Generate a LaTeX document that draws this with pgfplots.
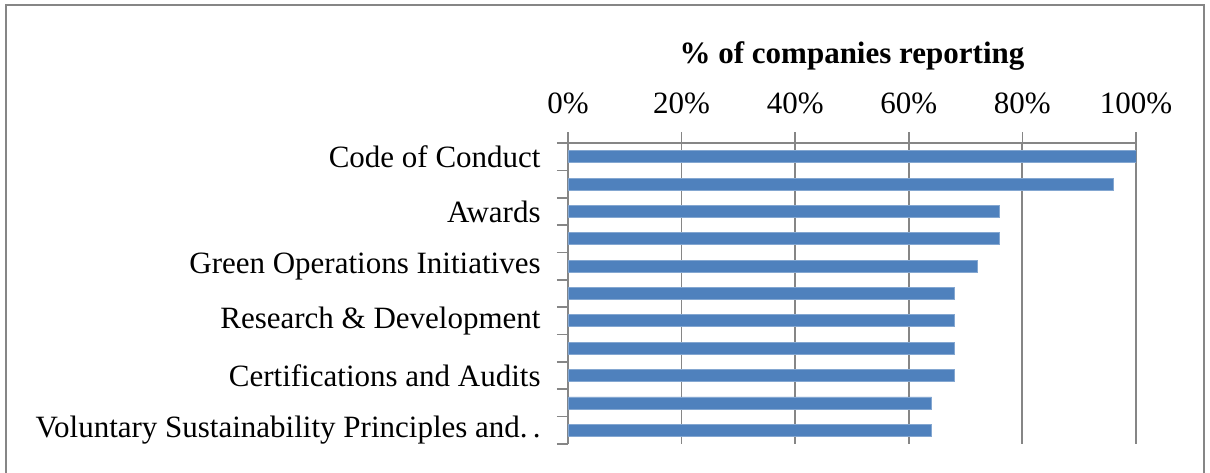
\documentclass[border=0pt]{standalone}
\usepackage{pgfplots}
\pgfplotsset{compat=1.18}
\usepackage{fontspec}
\setmainfont{Liberation Serif}
\definecolor{barblue}{RGB}{79,129,189}
\definecolor{gridgray}{RGB}{134,134,134}
\begin{document}
\begin{tikzpicture}
\useasboundingbox (-284pt,-14pt) rectangle (321pt,222pt);
\draw[gridgray, line width=1.2pt] (-281pt,-30pt) -- (-281pt,219.5pt) -- (318pt,219.5pt) -- (318pt,-30pt);
\begin{axis}[
  at={(0pt,0pt)}, anchor=south west,
  scale only axis,
  width=284pt, height=150.5pt,
  xbar, bar width=0.44, bar shift=0pt,
  xmin=0, xmax=100,
  ymin=-0.5, ymax=10.5,
  y dir=reverse,
  axis x line*=top, axis y line*=left,
  axis line style={-, gridgray, line width=0.8pt},
  xtick={0,20,40,60,80,100},
  xticklabels={0\%,20\%,40\%,60\%,80\%,100\%},
  xmajorgrids, major grid style={gridgray, line width=0.9pt},
  tick align=outside,
  major tick length=5.5pt,
  tick style={gridgray, line width=0.8pt},
  xticklabel style={anchor=center, yshift=14.5pt, font=\fontsize{15.5}{18}\selectfont},
  ytick={-0.5,0.5,...,10.5},
  yticklabels={},
  extra y ticks={0,2,4,6,8,10},
  extra y tick labels={Code of Conduct, Awards, Green Operations Initiatives, Research \& Development, Certifications and Audits, Voluntary Sustainability Principles and.\,.},
  extra y tick style={major tick length=0pt, ytick style={draw=none}},
  yticklabel style={anchor=east, inner sep=0pt, xshift=-13.5pt, font=\fontsize{15.5}{18}\selectfont},
  title={\textbf{\% of companies reporting}},
  title style={at={(0.5,1)}, anchor=center, yshift=37.5pt, font=\fontsize{15.5}{18}\selectfont},
]
\addplot[fill=barblue, draw=barblue!70!white, line width=0.4pt] coordinates {
(100,0) (96,1) (76,2) (76,3) (72,4) (68,5) (68,6) (68,7) (68,8) (64,9) (64,10)
};
\end{axis}
\end{tikzpicture}
\end{document}
